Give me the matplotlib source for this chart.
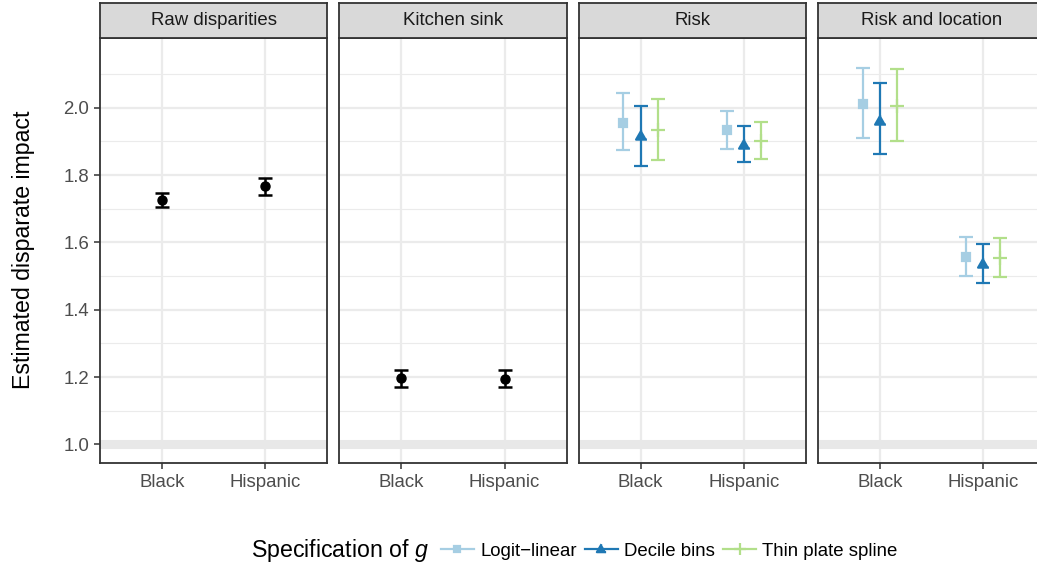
import numpy as np
import matplotlib
matplotlib.use("Agg")
import matplotlib.pyplot as plt
from matplotlib.lines import Line2D

plt.rcParams['font.family'] = ['Liberation Sans', 'DejaVu Sans']
plt.rcParams['mathtext.fontset'] = 'custom'
plt.rcParams['mathtext.rm'] = 'Liberation Sans'
plt.rcParams['mathtext.it'] = 'Liberation Sans:italic'

# Estimates and 95% intervals
panels = ['Raw disparities', 'Kitchen sink', 'Risk', 'Risk and location']
groups = ['Black', 'Hispanic']
specs = ['Logit\u2212linear', 'Decile bins', 'Thin plate spline']

raw_est = [1.725, 1.767]
raw_lo = [1.704, 1.742]
raw_hi = [1.748, 1.790]

sink_est = [1.196, 1.195]
sink_lo = [1.172, 1.172]
sink_hi = [1.222, 1.220]

risk_est = {'Logit\u2212linear': [1.955, 1.933],
            'Decile bins': [1.915, 1.889],
            'Thin plate spline': [1.933, 1.901]}
risk_lo = {'Logit\u2212linear': [1.874, 1.877],
           'Decile bins': [1.828, 1.838],
           'Thin plate spline': [1.845, 1.847]}
risk_hi = {'Logit\u2212linear': [2.043, 1.990],
           'Decile bins': [2.005, 1.946],
           'Thin plate spline': [2.026, 1.958]}

loc_est = {'Logit\u2212linear': [2.010, 1.556],
           'Decile bins': [1.962, 1.535],
           'Thin plate spline': [2.004, 1.553]}
loc_lo = {'Logit\u2212linear': [1.910, 1.500],
          'Decile bins': [1.863, 1.480],
          'Thin plate spline': [1.900, 1.497]}
loc_hi = {'Logit\u2212linear': [2.117, 1.617],
          'Decile bins': [2.072, 1.595],
          'Thin plate spline': [2.115, 1.612]}

colors = {'Logit\u2212linear': '#a6cee3', 'Decile bins': '#1f78b4',
          'Thin plate spline': '#b2df8a'}
# triangle with its centroid on the data point
tri = [(0, 1), (-0.866, -0.5), (0.866, -0.5)]
markers = {'Logit\u2212linear': ('s', 5.8), 'Decile bins': (tri, 9),
           'Thin plate spline': ('+', 9.5)}
offsets = {'Logit\u2212linear': -1 / 6, 'Decile bins': 0.0, 'Thin plate spline': 1 / 6}

W, H = 1037, 565
fig = plt.figure(figsize=(W / 100, H / 100), dpi=100)

grid_col = '#ebebeb'
dark = '#333333'
lw = 1.6

x = np.arange(1, len(groups) + 1)
axes = []
for i, name in enumerate(panels):
    left = 100 + i * 239.3
    ax = fig.add_axes([left / W, 1 - 463 / H, 227.3 / W, (463 - 38) / H])
    sax = fig.add_axes([left / W, 1 - 38 / H, 227.3 / W, 35 / H])
    sax.set_facecolor('#d9d9d9')
    sax.set_xticks([])
    sax.set_yticks([])
    for s in sax.spines.values():
        s.set_color(dark)
        s.set_linewidth(1.3)
    sax.text(0.5, 0.5, name, ha='center', va='center', fontsize=13.4,
             color='#1a1a1a', transform=sax.transAxes)

    ax.set_xlim(0.4, 2.6)
    ax.set_ylim(0.945, 2.207)
    ax.set_xticks(x)
    ax.set_xticklabels(groups)
    ax.set_yticks([1.0, 1.2, 1.4, 1.6, 1.8, 2.0])
    ax.set_yticks([1.1, 1.3, 1.5, 1.7, 1.9, 2.1], minor=True)
    ax.grid(which='major', color=grid_col, linewidth=1.6)
    ax.grid(which='minor', axis='y', color=grid_col, linewidth=0.8)
    ax.set_axisbelow(True)
    ax.axhline(1.0, color='#e8e8e8', linewidth=6.5, zorder=1.5)
    ax.tick_params(which='major', length=4.2, width=1.1, color=dark,
                   labelsize=13.4, labelcolor='#4d4d4d', pad=3.6)
    ax.tick_params(which='minor', length=0)
    for s in ax.spines.values():
        s.set_color(dark)
        s.set_linewidth(1.3)
    if i > 0:
        ax.tick_params(axis='y', which='both', left=False, labelleft=False)
    ax.yaxis.set_major_formatter(matplotlib.ticker.FormatStrFormatter('%.1f'))
    axes.append(ax)

# Single-estimate panels
for ax, est, lo, hi in [(axes[0], raw_est, raw_lo, raw_hi),
                        (axes[1], sink_est, sink_lo, sink_hi)]:
    est = np.array(est)
    yerr = [est - np.array(lo), np.array(hi) - est]
    ax.errorbar(x, est, yerr=yerr, fmt='o', color='black', ms=6.5,
                elinewidth=1.8, capsize=5, capthick=1.8, zorder=3)

# Panels comparing specifications of g
for ax, est_d, lo_d, hi_d in [(axes[2], risk_est, risk_lo, risk_hi),
                              (axes[3], loc_est, loc_lo, loc_hi)]:
    for sp in specs:
        est = np.array(est_d[sp])
        yerr = [est - np.array(lo_d[sp]), np.array(hi_d[sp]) - est]
        m, ms = markers[sp]
        ax.errorbar(x + offsets[sp], est, yerr=yerr, fmt='none', ecolor=colors[sp],
                    elinewidth=lw, capsize=5, capthick=lw, zorder=3)
        ax.plot(x + offsets[sp], est, linestyle='none', marker=m, ms=ms,
                color=colors[sp], mew=1.6, zorder=4)

axes[0].set_ylabel('Estimated disparate impact', fontsize=16.7)
axes[0].yaxis.set_label_coords(35 / W, 1 - 250 / H, transform=fig.transFigure)

# Legend along the bottom
fig.text(251 / W, 1 - 551 / H, 'Specification of $g$', fontsize=16.7,
         ha='left', va='center')
handles = []
for sp in specs:
    m, ms = markers[sp]
    handles.append(Line2D([], [], color=colors[sp], linewidth=lw, marker=m,
                          ms=ms * 0.85, mew=1.6))
fig.legend(handles, specs, loc='center left', bbox_to_anchor=(441 / W, 1 - 551 / H),
           ncol=3, frameon=False, fontsize=13.4, handlelength=1.75,
           handletextpad=0.35, columnspacing=0.45, borderpad=0, borderaxespad=0)

fig.savefig('out.png', dpi=100)
